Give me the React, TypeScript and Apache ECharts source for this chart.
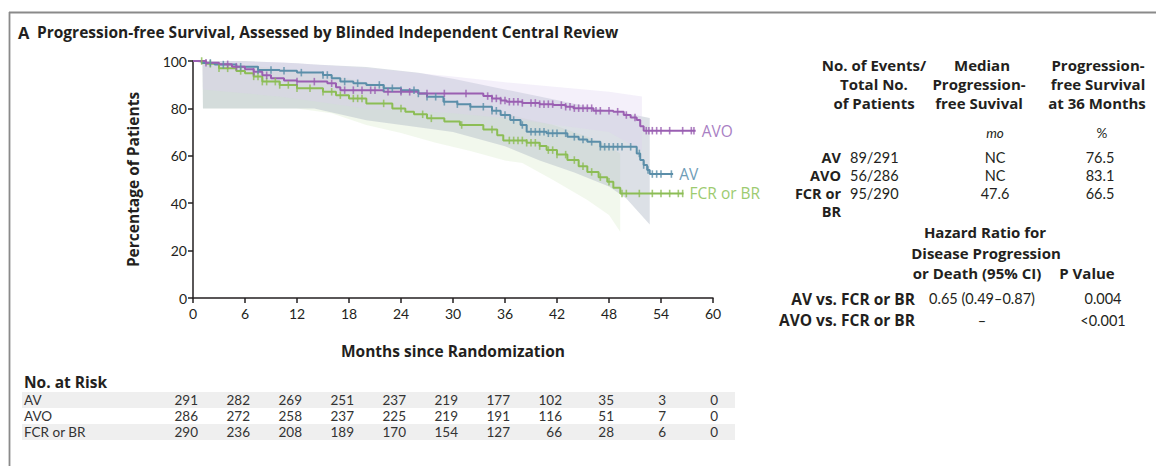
import React, { useEffect, useRef } from "react";
import * as echarts from "echarts";

// Kaplan-Meier steps: [month, percentage]
const avoSteps: [number, number][] = [
  [0, 100], [1.5, 99.3], [3, 98.6], [4.5, 97.6], [6, 96.5], [7, 95.5], [8, 94], [9, 92.7],
  [10.5, 91.8], [12, 91.3], [15.5, 90.6], [16.5, 88.9], [17, 87.7], [22, 87.0], [26, 86.3],
  [33.5, 85.2], [34.5, 84.2], [35.5, 83.3], [36.2, 82.8], [38, 82.3], [40, 81.8], [41.6, 81.4],
  [43, 80.7], [43.9, 80.1], [46.2, 79.0], [48.5, 78.6], [49.7, 77.2], [50.5, 76.2], [51.2, 75.1],
  [51.6, 72.5], [52, 70.6], [58, 70.6],
];
const avSteps: [number, number][] = [
  [0, 100], [1, 99.2], [2.5, 98.5], [5, 97.6], [7.5, 96.2], [10, 95.9], [12, 95.1], [15, 94.1],
  [16, 92.7], [17, 91.3], [18.5, 90.6], [20, 89.9], [22, 88.5], [24, 87.7], [26, 86.3], [27, 84.9],
  [28.9, 82.8], [30.5, 81.8], [32, 80.7], [34.5, 79.0], [35.5, 77.2], [36.6, 75.1], [37.8, 73.0],
  [38.5, 70.1], [40.8, 69.5], [43.2, 68.0], [44.5, 66.9], [45.5, 65.9], [47, 63.8], [51.2, 61],
  [51.6, 58.2], [52, 56.1], [52.4, 54], [52.7, 52.3], [55.4, 52.3],
];
const fcrSteps: [number, number][] = [
  [0, 100], [1.5, 98.8], [3, 96.9], [5, 95.8], [6, 94.8], [7, 93.5], [8, 91.3], [10, 89.9],
  [12, 88.5], [15, 87.0], [16.5, 85.6], [18, 84.2], [20, 82.1], [23, 80.0], [24.5, 78.6],
  [25.5, 77.5], [27, 75.8], [29, 74.5], [30.8, 73.0], [33.5, 71.1], [35.1, 68.7], [35.8, 66.5],
  [38.5, 65.5], [40, 64.1], [40.8, 62.4], [42, 60.5], [43.2, 58.2], [44.5, 55.6], [45.5, 53.2],
  [46.8, 51], [47.8, 49.0], [48.5, 46.5], [49.3, 44.1], [56.6, 44.1],
];

// Censored observations (months)
const avoCensor = [1.5, 4, 5, 7, 8.5, 12, 14, 16, 17.5, 18.5, 19.5, 20.5, 21, 22.5, 24, 25, 27, 29, 31.5,
  34, 34.5, 35, 35.5, 36, 36.5, 37, 37.5, 38, 39, 39.5, 40, 40.5, 41, 41.5, 42.5, 43, 43.5, 44, 44.5,
  45, 45.5, 46, 46.5, 47, 48, 49, 50, 51, 52.3, 52.6, 53, 53.5, 54, 55, 56.5, 57.5, 57.8];
const avCensor = [2, 3.5, 5.5, 7.5, 9, 10.5, 12.5, 15, 15.5, 17.5, 19, 21.5, 22, 23, 24, 25.5, 26, 27, 28,
  29, 30.5, 32, 33.5, 34.5, 35, 36, 37, 38, 39, 39.5, 40, 40.5, 41, 41.5, 42, 43, 44, 45, 46, 47, 47.5,
  48, 48.5, 49, 49.5, 50.5, 51.5, 52, 52.5, 53, 53.5, 54, 55.2];
const fcrCensor = [1, 2, 3, 4, 5.5, 7, 7.5, 8, 8.5, 9.5, 10, 11, 12, 13.5, 15, 16, 17, 18.5, 19, 19.5,
  22, 24, 26.5, 27.5, 31, 34.5, 36.5, 37, 37.5, 38, 38.5, 39, 39.5, 40, 41, 41.5, 42, 43, 44, 45, 46,
  47, 48, 49.5, 50, 51.5, 53, 54, 55, 56, 56.5];

// 95% CI bands: [month, lower, upper]
const avBand: [number, number, number][] = [
  [0, 100, 100], [1.1, 99, 100], [1.15, 80, 100], [6, 80, 100], [12, 80, 99], [14, 80, 98.5],
  [20, 75, 97.5], [26, 72, 95], [30, 70, 92.5], [36, 64, 88], [40, 58, 85], [44, 53, 82],
  [48, 47, 79], [50, 42, 78], [52.7, 31, 76],
];
const avoBand: [number, number, number][] = [
  [0, 100, 100], [1.1, 99, 100], [1.15, 88, 100], [10, 85, 99.5], [20, 80, 97], [30, 78, 93.5],
  [36, 76, 91], [42, 73, 89], [48, 70, 87], [51.8, 62, 85],
];
const fcrBand: [number, number, number][] = [
  [0, 100, 100], [1.1, 99, 100], [1.15, 80, 100], [12, 80, 96], [16, 78, 94], [20, 73, 91],
  [24, 69.6, 88], [28, 65.5, 84.5], [32, 62, 81], [36, 58, 78], [38, 57, 76], [41.6, 49.7, 73],
  [45.5, 41.3, 68], [48, 35, 64], [49.3, 28, 61],
];

// Number at risk
const riskMonths = [0, 6, 12, 18, 24, 30, 36, 42, 48, 54, 60];
const riskAV = [291, 282, 269, 251, 237, 219, 177, 102, 35, 3, 0];
const riskAVO = [286, 272, 258, 237, 225, 219, 191, 116, 51, 7, 0];
const riskFCR = [290, 236, 208, 189, 170, 154, 127, 66, 28, 6, 0];

// Summary table
const groupNames = ["AV", "AVO", "FCR or BR"];
const eventsTotals = ["89/291", "56/286", "95/290"];
const medianPFS = ["NC", "NC", "47.6"];
const pfs36 = ["76.5", "83.1", "66.5"];
const comparisons = ["AV vs. FCR or BR", "AVO vs. FCR or BR"];
const hazardRatios = ["0.65 (0.49\u20130.87)", "\u2013"];
const pValues = ["0.004", "<0.001"];

const C_AVO = "#9a5fb2";
const C_AV = "#5b8ea9";
const C_FCR = "#8cbd55";
const FONT = "Lato, 'Open Sans', sans-serif";
const FONT_B = "'Open Sans', Lato, sans-serif";
const TXT = "#231f20";

function stepValueAt(steps: [number, number][], t: number) {
  let v = steps[0][1];
  for (const [m, val] of steps) {
    if (m <= t) v = val;
    else break;
  }
  return v;
}

function bandSeries(band: [number, number, number][], color: string) {
  return {
    type: "custom", silent: true, z: 1, data: [[band[0][0], band[0][2]]],
    renderItem: (_p: any, api: any) => {
      const pts: number[][] = [];
      band.forEach((b) => pts.push(api.coord([b[0], b[2]])));
      for (let i = band.length - 1; i >= 0; i--) pts.push(api.coord([band[i][0], band[i][1]]));
      return { type: "polygon", shape: { points: pts }, style: { fill: color } };
    },
  };
}

function kmSeries(steps: [number, number][], censor: number[], color: string, label: string, labelColor: string) {
  return [
    {
      type: "line", step: "end", data: steps, symbol: "none", z: 3,
      lineStyle: { color, width: 2 },
      endLabel: {
        show: true, formatter: label, color: labelColor, fontFamily: FONT_B, fontSize: 15.5, distance: 6,
      },
    },
    {
      type: "scatter", data: censor.map((t) => [t, stepValueAt(steps, t)]), symbol: "rect",
      symbolSize: [1.6, 7.5], itemStyle: { color }, z: 4,
    },
  ];
}

export default function App() {
  const ref = useRef<HTMLDivElement>(null);
  useEffect(() => {
    const chart = echarts.init(ref.current!, null, { renderer: "svg" });
    const gridLeft = 193, gridTop = 61, gridW = 520, gridH = 237;
    chart.setOption({
      animation: false,
      grid: { left: gridLeft, top: gridTop, width: gridW, height: gridH },
      xAxis: {
        type: "value", min: 0, max: 60, interval: 6,
        name: "Months since Randomization", nameLocation: "middle", nameGap: 45,
        nameTextStyle: { fontFamily: FONT_B, fontWeight: "bold", fontSize: 15.5, color: TXT },
        axisLine: { lineStyle: { color: TXT, width: 1.5 } },
        axisTick: { length: 5, lineStyle: { color: TXT, width: 1.5 } },
        axisLabel: { fontFamily: FONT, fontSize: 14, color: TXT, margin: 8 },
        splitLine: { show: false },
      },
      yAxis: {
        type: "value", min: 0, max: 100, interval: 20,
        name: "Percentage of Patients", nameLocation: "middle", nameGap: 52,
        nameTextStyle: { fontFamily: FONT_B, fontWeight: "bold", fontSize: 15.5, color: TXT },
        axisLine: { show: true, lineStyle: { color: TXT, width: 1.5 } },
        axisTick: { show: true, length: 5, lineStyle: { color: TXT, width: 1.5 } },
        axisLabel: { fontFamily: FONT, fontSize: 14, color: TXT, margin: 6 },
        splitLine: { show: false },
      },
      series: [
        bandSeries(fcrBand, "rgba(226,239,214,0.45)"),
        bandSeries(avBand, "rgba(172,180,196,0.42)"),
        bandSeries(avoBand, "rgba(222,208,238,0.32)"),
        ...kmSeries(fcrSteps, fcrCensor, C_FCR, "FCR or BR", "#9dcb70"),
        ...kmSeries(avSteps, avCensor, C_AV, "AV", "#6e9db7"),
        ...kmSeries(avoSteps, avoCensor, C_AVO, "AVO", "#a97fc4"),
      ],
    });

    const g: any[] = [];
    const txt = (text: string, x: number, y: number, opts: any = {}) =>
      g.push({
        type: "text", x, y, silent: true,
        style: {
          text, fill: TXT, fontFamily: FONT, fontSize: 14, textAlign: "left",
          textVerticalAlign: "middle", ...opts,
        },
      });

    // frame
    g.push({ type: "line", shape: { x1: 9, y1: 12.5, x2: 1156, y2: 12.5 }, style: { stroke: "#8a8a8a", lineWidth: 1.8 } });
    g.push({ type: "line", shape: { x1: 9.5, y1: 12, x2: 9.5, y2: 466 }, style: { stroke: "#8a8a8a", lineWidth: 1.8 } });

    // title
    txt("A", 18, 32, { fontWeight: "bold", fontSize: 16.5, fontFamily: FONT_B });
    txt("Progression-free Survival, Assessed by Blinded Independent Central Review", 37, 32, { fontWeight: "bold", fontSize: 15.5, fontFamily: FONT_B });

    // summary table headers
    const bold = { fontWeight: "bold", textAlign: "center", fontFamily: FONT_B, fontSize: 15, lineHeight: 17 };
    txt("No. of Events/", 874, 65, bold);
    txt("Total No.", 874, 83.5, bold);
    txt("of Patients", 874, 102.5, bold);
    txt("Median", 982, 65, bold);
    txt("Progression-", 979, 83.5, bold);
    txt("free Suvival", 979, 102.5, bold);
    txt("Progression-", 1098, 65, bold);
    txt("free Survival", 1098, 83.5, bold);
    txt("at 36 Months", 1097, 102.5, bold);
    txt("mo", 995, 133, { textAlign: "center", fontStyle: "italic", fontSize: 13.5 });
    txt("%", 1102, 133, { textAlign: "center", fontSize: 13.5 });

    const rowY = [157, 175, 193];
    const rowBold = { fontWeight: "bold", textAlign: "right", fontFamily: FONT_B, fontSize: 14.5, lineHeight: 16 };
    const valStyle = { fontSize: 14.5, lineHeight: 16 };
    groupNames.forEach((name, i) => {
      if (name === "FCR or BR") {
        txt("FCR or", 841, rowY[i], rowBold);
        txt("BR", 841, 211, rowBold);
      } else {
        txt(name, 841, rowY[i], rowBold);
      }
      txt(eventsTotals[i], 850, rowY[i], valStyle);
      txt(medianPFS[i], 995, rowY[i], { ...valStyle, textAlign: "center" });
      txt(pfs36[i], 1100, rowY[i], { ...valStyle, textAlign: "center" });
    });

    txt("Hazard Ratio for", 985, 232, bold);
    txt("Disease Progression", 986, 252.5, bold);
    txt("or Death (95% CI)", 977, 272.5, bold);
    txt("P Value", 1087, 272.5, bold);
    const cmpY = [298.5, 320];
    comparisons.forEach((c, i) => {
      txt(c, 915, cmpY[i], { ...rowBold, fontSize: 15.5, lineHeight: 18 });
      txt(hazardRatios[i], 982, cmpY[i], { ...valStyle, textAlign: "center" });
      txt(pValues[i], 1103, cmpY[i], { ...valStyle, textAlign: "center" });
    });

    // number at risk table
    txt("No. at Risk", 24, 382, { fontWeight: "bold", fontFamily: FONT_B, fontSize: 15.5 });
    g.push({ type: "rect", shape: { x: 22, y: 392, width: 713, height: 16 }, style: { fill: "#efefef" }, z: -1 });
    g.push({ type: "rect", shape: { x: 22, y: 424, width: 713, height: 16 }, style: { fill: "#efefef" }, z: -1 });
    const riskRows = [riskAV, riskAVO, riskFCR];
    const riskY = [400, 416, 432];
    riskRows.forEach((row, r) => {
      txt(groupNames[r], 24, riskY[r], { fontSize: 13.5, lineHeight: 15, fill: "#333" });
      row.forEach((n, i) => {
        const px = chart.convertToPixel({ xAxisIndex: 0 }, riskMonths[i]) as number;
        txt(String(n), px + 5, riskY[r], { fontSize: 13.5, lineHeight: 15, textAlign: "right", fill: "#333" });
      });
    });

    chart.setOption({ graphic: g });
    return () => chart.dispose();
  }, []);
  return <div ref={ref} style={{ position: "absolute", left: 0, top: 0, width: 1156, height: 466, background: "#fff" }} />;
}
